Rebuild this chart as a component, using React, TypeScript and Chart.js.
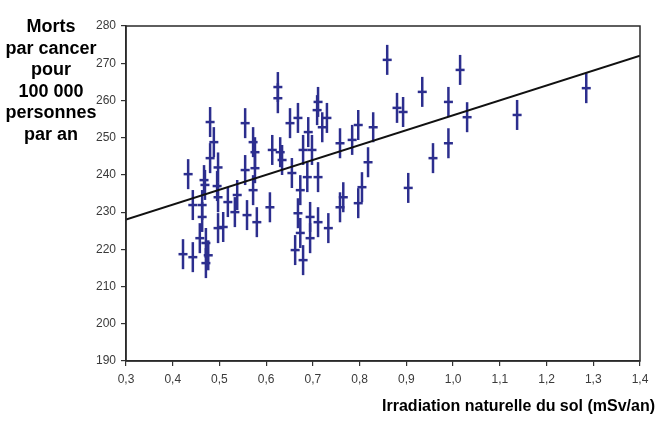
import React, { useEffect, useRef } from "react";
import { Chart, registerables } from "chart.js";

Chart.register(...registerables);

// Irradiation naturelle du sol (mSv/an)
const doseValues: number[] = [
  0.480, 0.488, 0.480, 0.497, 0.433, 0.467, 0.469, 0.495, 0.497, 0.518, 0.538, 0.533,
  0.443, 0.463, 0.463, 0.497, 0.508, 0.458, 0.471, 0.422, 0.443, 0.471, 0.476,
  0.625, 0.625, 0.555, 0.572, 0.576, 0.555, 0.576, 0.572, 0.613, 0.630, 0.634, 0.651,
  0.668, 0.655, 0.690, 0.679, 0.698, 0.709, 0.688, 0.673, 0.668, 0.694, 0.694, 0.673,
  0.662, 0.679, 0.608, 0.559, 0.580,
  0.859, 0.711, 0.730, 0.720, 0.758, 0.784, 0.797, 0.829, 0.818, 0.805, 0.797, 0.765,
  0.758, 0.711, 0.711, 0.733,
  1.015, 0.934, 0.880, 0.893, 0.990, 1.030, 0.990, 0.957, 0.904,
  1.137, 1.285,
];

// Morts par cancer pour 100 000 personnes par an
const deathValues: number[] = [
  254.2, 248.8, 244.5, 242.0, 240.2, 238.6, 237.3, 237.0, 234.0, 232.7, 234.6, 230.0,
  231.9, 231.9, 228.7, 225.7, 226.0, 223.0, 221.7, 218.7, 217.9, 216.3, 218.4,
  263.6, 260.6, 253.9, 248.8, 246.1, 241.3, 241.8, 235.9, 246.7, 246.1, 244.0, 253.9,
  255.3, 240.5, 251.5, 246.7, 246.7, 257.4, 239.4, 235.9, 229.7, 228.7, 223.0, 224.4,
  219.8, 217.1, 231.3, 229.2, 227.3,
  270.9, 259.6, 255.3, 252.8, 248.5, 249.4, 253.4, 252.8, 243.4, 236.7, 232.4, 234.0,
  231.3, 239.4, 227.3, 225.7,
  268.2, 262.3, 258.0, 256.9, 259.6, 255.5, 248.5, 244.5, 236.5,
  256.1, 263.3,
];

// Droite de régression
const fitX: number[] = [0.3, 1.4];
const fitY: number[] = [228, 272];

const xTicks: number[] = [0.3, 0.4, 0.5, 0.6, 0.7, 0.8, 0.9, 1.0, 1.1, 1.2, 1.3, 1.4];
const yTicks: number[] = [190, 200, 210, 220, 230, 240, 250, 260, 270, 280];

const yTitleLines: string[] = ["Morts", "par cancer", "pour", "100 000", "personnes", "par an"];
const xTitle = "Irradiation naturelle du sol (mSv/an)";

const NAVY = "#2c2e8e";

export default function App() {
  const ref = useRef<HTMLCanvasElement | null>(null);

  useEffect(() => {
    if (!ref.current) return;
    const points = doseValues.map((x, i) => ({ x, y: deathValues[i] }));
    const fit = fitX.map((x, i) => ({ x, y: fitY[i] }));

    const framePlugin = {
      id: "frameAndTitles",
      afterDraw(chart: any) {
        const { ctx, chartArea } = chart;
        ctx.save();
        ctx.strokeStyle = "#2a2a2a";
        ctx.lineWidth = 1.5;
        ctx.strokeRect(chartArea.left, chartArea.top, chartArea.right - chartArea.left, chartArea.bottom - chartArea.top);
        ctx.fillStyle = "#000";
        ctx.font = "bold 18px 'Liberation Sans', Arial, sans-serif";
        ctx.textAlign = "center";
        ctx.textBaseline = "alphabetic";
        yTitleLines.forEach((t, i) => {
          ctx.fillText(t, 51, 32 + i * 21.6);
        });
        ctx.font = "bold 16px 'Liberation Sans', Arial, sans-serif";
        ctx.textAlign = "right";
        ctx.fillText(xTitle, 655, 411);
        ctx.restore();
      },
    };

    const chart = new Chart(ref.current, {
      type: "scatter",
      data: {
        datasets: [
          {
            type: "line",
            data: fit,
            borderColor: "#111",
            borderWidth: 2,
            pointRadius: 0,
            fill: false,
            order: 0,
          } as any,
          {
            data: points,
            pointStyle: "line",
            rotation: 90,
            pointRadius: 15,
            borderColor: NAVY,
            backgroundColor: NAVY,
            borderWidth: 2.5,
            order: 1,
          } as any,
          {
            data: points,
            pointStyle: "line",
            pointRadius: 4.5,
            borderColor: NAVY,
            backgroundColor: NAVY,
            borderWidth: 2.5,
            order: 1,
          } as any,
        ],
      },
      options: {
        responsive: false,
        animation: false,
        events: [],
        layout: { padding: { top: 26, right: 20, left: 0, bottom: 0 } },
        plugins: { legend: { display: false }, tooltip: { enabled: false } },
        scales: {
          x: {
            type: "linear",
            min: 0.3,
            max: 1.4,
            afterFit(scale: any) {
              scale.height = 66;
            },
            afterBuildTicks(scale: any) {
              scale.ticks = xTicks.map((v) => ({ value: v }));
            },
            grid: { display: true, drawOnChartArea: false, drawTicks: true, tickLength: 5, color: "#333", lineWidth: 1.2 },
            border: { display: true, color: "#2a2a2a", width: 1.5 },
            ticks: {
              padding: 6,
              color: "#3a3a3a",
              font: { size: 12, family: "'Liberation Sans', Arial, sans-serif" },
              maxRotation: 0,
              autoSkip: false,
              callback: (v: any) => Number(v).toFixed(1).replace(".", ","),
            },
          },
          y: {
            type: "linear",
            min: 190,
            max: 280,
            afterFit(scale: any) {
              scale.width = 126;
            },
            afterBuildTicks(scale: any) {
              scale.ticks = yTicks.map((v) => ({ value: v }));
            },
            grid: { display: true, drawOnChartArea: false, drawTicks: true, tickLength: 5, color: "#333", lineWidth: 1.2 },
            border: { display: true, color: "#2a2a2a", width: 1.5 },
            ticks: {
              padding: 5,
              color: "#3a3a3a",
              font: { size: 12, family: "'Liberation Sans', Arial, sans-serif" },
              autoSkip: false,
              callback: (v: any) => String(v),
            },
          },
        },
      },
      plugins: [framePlugin],
    });
    return () => chart.destroy();
  }, []);

  return (
    <div style={{ position: "fixed", left: 0, top: 0, width: 660, height: 427, background: "#fff" }}>
      <canvas ref={ref} width={660} height={427} style={{ width: 660, height: 427 }} />
    </div>
  );
}
